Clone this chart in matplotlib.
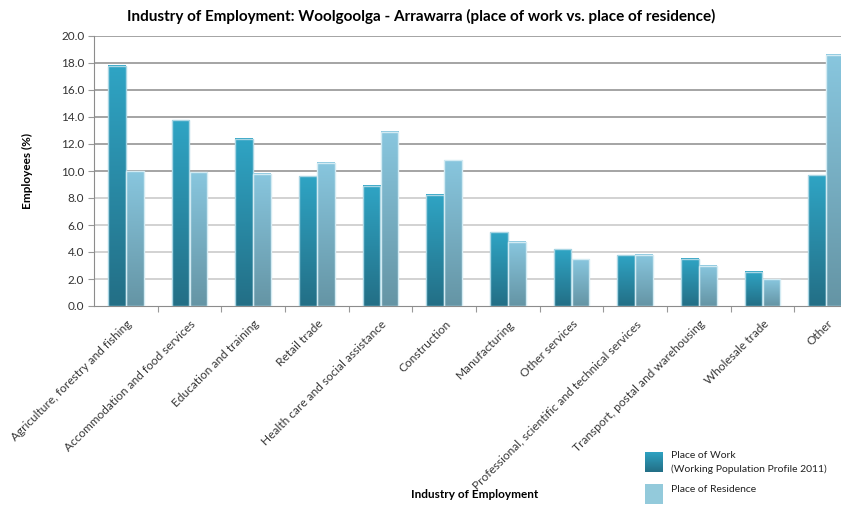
import matplotlib.pyplot as plt
import numpy as np
from matplotlib.colors import LinearSegmentedColormap
from matplotlib.patches import Rectangle

plt.rcParams['font.family'] = ['Lato', 'DejaVu Sans']

industries = ["Agriculture, forestry and fishing", "Accommodation and food services",
              "Education and training", "Retail trade", "Health care and social assistance",
              "Construction", "Manufacturing", "Other services",
              "Professional, scientific and technical services",
              "Transport, postal and warehousing", "Wholesale trade", "Other"]
place_of_work = [17.8, 13.75, 12.4, 9.6, 8.9, 8.25, 5.45, 4.2, 3.75, 3.5, 2.55, 9.7]
place_of_residence = [10.0, 9.9, 9.8, 10.6, 12.9, 10.8, 4.75, 3.45, 3.8, 3.0, 2.0, 18.6]
yticks = np.arange(0, 20.1, 2.0)

# bottom -> top colour ramps for the two series
work_cmap = LinearSegmentedColormap.from_list("work", ["#236f86", "#2fa4c4"])
res_cmap = LinearSegmentedColormap.from_list("res", ["#6595a5", "#88c6de"])
grad = np.linspace(0, 1, 64).reshape(-1, 1)

fig = plt.figure(figsize=(8.41, 5.07), dpi=100)
ax = fig.add_axes([94 / 841, 1 - 306 / 507, 764 / 841, 270 / 507])

n = len(industries)
x = np.arange(n)
w = 0.278
off = 0.14


def grad_bar(ax, xc, h, cmap, edge):
    x0, x1 = xc - w / 2, xc + w / 2
    ax.imshow(grad, cmap=cmap, extent=[x0, x1, 0, h], origin="lower",
              aspect="auto", zorder=3, interpolation="bilinear")
    ax.add_patch(Rectangle((x0, 0), w, h, fill=False, edgecolor=edge,
                           lw=1.0, zorder=4))


for i in range(n):
    grad_bar(ax, x[i] - off, place_of_work[i], work_cmap, "#a9d6e4")
    grad_bar(ax, x[i] + off, place_of_residence[i], res_cmap, "#d3ebf3")

ax.set_xlim(-0.5, n - 0.5)
ax.set_ylim(0, 20)
ax.set_yticks(yticks)
ax.set_yticklabels([f"{v:.1f}" for v in yticks], fontsize=8.5, color="#333333")

for v in yticks[1:]:
    ax.axhline(v, color="#8c8c8c" if v >= 10 else "#c6c6c6", lw=1.1, zorder=1)

ax.set_xticks(x[:-1] + 0.5)
ax.set_xticklabels([])
ax.tick_params(axis="x", length=4, color="#999999")
ax.tick_params(axis="y", length=4, color="#999999", pad=3)
for i, name in enumerate(industries):
    ax.text(x[i] + 0.01, -0.9, name, rotation=45, ha="right", va="top",
            rotation_mode="anchor", fontsize=8.6, color="#383838")

for s in ["top", "right"]:
    ax.spines[s].set_visible(False)
for s in ["left", "bottom"]:
    ax.spines[s].set_color("#8c8c8c")

ax.set_ylabel("Employees (%)", fontsize=8.5, fontweight="bold", labelpad=20)
fig.text(475 / 841, 1 - 495 / 507, "Industry of Employment", ha="center", va="center",
         fontsize=8.5, fontweight="bold")
fig.text(421 / 841, 1 - 16 / 507,
         "Industry of Employment: Woolgoolga - Arrawarra (place of work vs. place of residence)",
         ha="center", va="center", fontsize=11, fontweight="bold")

# legend
lw_ax = fig.add_axes([645 / 841, 1 - 472 / 507, 18 / 841, 20 / 507])
lw_ax.imshow(grad, cmap=work_cmap, origin="lower", aspect="auto", extent=[0, 1, 0, 1])
lw_ax.axis("off")
fig.patches.append(Rectangle((645 / 841, 1 - 504 / 507), 18 / 841, 20 / 507,
                             transform=fig.transFigure, facecolor="#93cadb",
                             edgecolor="none"))
fig.text(671 / 841, 1 - 456 / 507, "Place of Work", fontsize=7.5, va="center", color="#222222")
fig.text(671 / 841, 1 - 469 / 507, "(Working Population Profile 2011)", fontsize=7.5,
         va="center", color="#222222")
fig.text(671 / 841, 1 - 489 / 507, "Place of Residence", fontsize=7.5, va="center",
         color="#222222")

fig.savefig("out.png", dpi=100)
